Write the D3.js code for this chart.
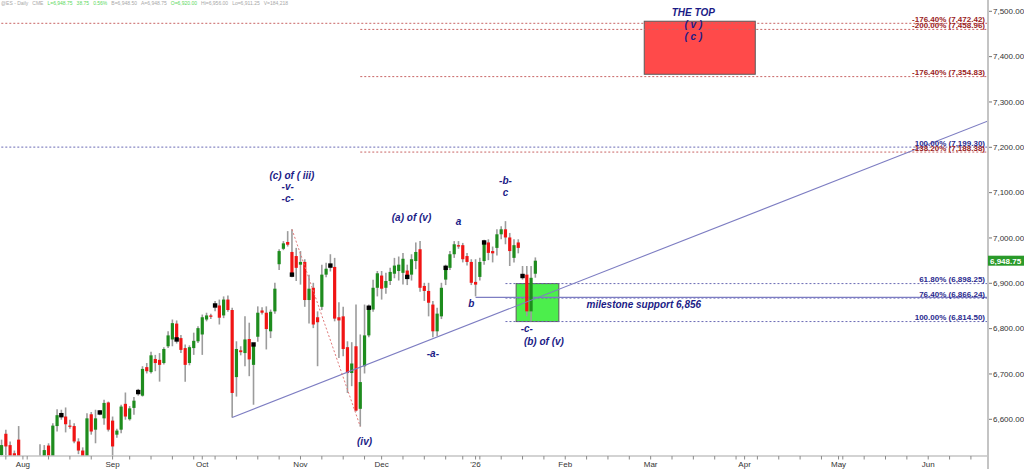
<!DOCTYPE html>
<html>
<head>
<meta charset="utf-8">
<script src="https://cdn.jsdelivr.net/npm/d3@7"></script>
<style>
body { margin: 0; background: #fff; overflow: hidden; }
svg { display: block; font-family: Arial, "Liberation Sans", sans-serif; }
</style>
</head>
<body>
<div id="chart"></div>
<script>
// time slots on the x axis (weekdays, past exchange holidays removed)
var firstSlot = "2025-07-24", lastSlot = "2026-06-19";
var holidays = ["2025-09-01", "2025-11-27", "2025-12-25", "2026-01-01"];

// daily bars, first one on Jul 25 2025
var firstBar = "2025-07-25";
var barOpen = [6520,6567,6542,6524,6554,6505,6460,6478,6465,6498,6510,6541,6515,6584,6607,6605,6585,6584,6550,6530,
  6516,6610,6576,6613,6601,6636,6596,6565,6576,6633,6599,6624,6658,6651,6714,6703,6732,6730,6723,6760,
  6775,6810,6778,6756,6723,6756,6771,6786,6819,6828,6850,6850,6828,6863,6840,6692,6751,6745,6776,6719,
  6781,6839,6834,6793,6837,6941,6975,6990,6968,6959,6940,6946,6862,6889,6824,6847,6918,6937,6935,6824,
  6826,6758,6701,6760,6622,6716,6784,6841,6889,6916,6889,6904,6920,6926,6922,6927,6918,6948,6974,6893,
  6882,6852,6793,6826,6907,6933,6963,6983,6983,6959,6946,6902,6913,6948,6989,6970,6977,7007,7018,7000,
  6955,6989,6916,6918,6837,6920];
var barHigh = [6554,6576,6550,6530,6584,6512,6485,6500,6510,6544,6542,6546,6590,6621,6620,6625,6598,6590,6557,6537,
  6612,6615,6620,6619,6642,6638,6605,6578,6631,6658,6628,6648,6666,6716,6723,6748,6741,6745,6758,6793,
  6819,6817,6785,6764,6762,6790,6804,6830,6834,6832,6860,6863,6870,6872,6845,6771,6760,6826,6812,6767,
  6848,6846,6848,6841,6900,6974,6992,7014,7018,6977,6970,6952,6918,6900,6837,6940,6944,6963,6955,6857,
  6847,6771,6769,6852,6786,6852,6852,6907,6926,6926,6922,6933,6955,6958,6966,6940,6963,6989,6992,6900,
  6900,6860,6845,6900,6940,6970,6992,6992,6988,6966,6952,6952,6955,6995,6996,6980,7018,7025,7036,7010,
  6996,6996,6937,6937,6937,6956];
var barLow = [6510,6515,6505,6505,6490,6440,6440,6450,6455,6490,6500,6505,6508,6572,6598,6570,6578,6546,6522,6505,
  6508,6565,6546,6608,6587,6572,6518,6558,6568,6598,6596,6609,6651,6649,6700,6700,6705,6682,6720,6756,
  6760,6766,6745,6682,6718,6741,6767,6741,6815,6820,6837,6808,6822,6836,6603,6649,6740,6716,6694,6631,
  6770,6830,6753,6778,6832,6928,6972,6980,6912,6904,6896,6847,6810,6800,6716,6840,6912,6925,6815,6734,
  6738,6657,6672,6616,6583,6700,6780,6836,6870,6863,6876,6895,6910,6905,6896,6895,6905,6930,6880,6860,
  6826,6780,6782,6820,6895,6928,6955,6975,6945,6938,6895,6870,6905,6940,6950,6945,6960,6996,6985,6937,
  6945,6965,6907,6826,6815,6911.25];
var barClose = [6542,6539,6515,6516,6505,6455,6475,6460,6500,6512,6531,6515,6585,6608,6608,6588,6583,6550,6530,6516,
  6601,6572,6601,6614,6635,6576,6539,6574,6627,6605,6623,6640,6659,6710,6705,6740,6723,6719,6754,6784,
  6811,6775,6752,6719,6758,6772,6800,6824,6828,6825,6850,6823,6863,6840,6657,6754,6747,6775,6731,6764,
  6834,6834,6798,6836,6887,6970,6987,6984,6918,6933,6946,6862,6887,6808,6813,6918,6931,6938,6821,6817,
  6754,6701,6722,6618,6681,6784,6845,6889,6921,6887,6904,6924,6938,6940,6953,6913,6952,6968,6889,6882,
  6856,6793,6832,6889,6933,6963,6985,6980,6952,6946,6900,6896,6946,6989,6966,6965,7007,7018,7000,6970,
  6983,6977,6915,6837,6911,6948.75];

// 9-bar count marker, counted from Aug 1
var markerStart = "2025-08-01", markerEvery = 9;

// price axis
var priceTicks = [6600, 6700, 6800, 6900, 7000, 7100, 7200, 7300, 7400, 7500];
var lastPrice = 6948.75;

// fibonacci levels
var fibPrice = [7472.42, 7458.96, 7354.83, 7199.30, 7188.38, 6898.25, 6866.24, 6814.50];
var fibLabel = ["-176.40% (7,472.42)", "-200.00% (7,458.96)", "-176.40% (7,354.83)", "100.00% (7,199.30)",
  "-138.20% (7,188.38)", "61.80% (6,898.25)", "76.40% (6,866.24)", "100.00% (6,814.50)"];
var fibFrom = ["2025-07-24", "2025-11-21", "2025-11-21", "2025-07-24", "2025-11-21", "2026-01-13", "2026-01-13", "2026-01-13"];
var fibKind = ["red", "red", "red", "blue", "red", "blue", "blue", "blue"];

// target zones
var zoneFrom = ["2026-02-27", "2026-01-16"];
var zoneTo = ["2026-04-06", "2026-01-30"];
var zoneTop = [7477, 6898.25];
var zoneBottom = [7360, 6814.50];
var zoneKind = ["red", "green"];

// trend line, wave (iii)-(iv) line, milestone support
var trendDates = ["2025-10-10", "2026-06-19"], trendPrices = [6603, 7257];
var waveDates = ["2025-10-30", "2025-11-21"], wavePrices = [7018, 6583];
var supportFrom = "2026-01-02", supportPrice = 6868;

// wave labels
var annoText = ["(c) of ( iii)", "-v-", "-c-", "(a) of (v)", "(iv)", "-a-", "a", "b", "-b-", "c", "-c-", "(b) of (v)", "THE TOP", "( v )", "( c )"];
var annoDate = ["2025-10-30", "2025-10-29", "2025-10-29", "2025-12-10", "2025-11-24", "2025-12-17", "2025-12-26", "2025-12-31",
  "2026-01-13", "2026-01-13", "2026-01-20", "2026-01-26", "2026-03-16", "2026-03-16", "2026-03-16"];
var annoPrice = [7136, 7112, 7085, 7043, 6551, 6743, 7036, 6854, 7126, 7100, 6800, 6771, 7496, 7470, 7443];
var supportText = "milestone support 6,856", supportTextDate = "2026-02-09", supportTextPrice = 6853;

// header line
var headParts = ["@ES - Daily", "CME", "L=6,948.75", "38.75", "0.56%", "B=6,948.50", "A=6,948.75", "O=6,920.00", "Hi=6,956.00", "Lo=6,911.25", "V=184,218"];
var headGreen = [false, false, true, true, true, false, false, true, false, false, false];

// ---- layout ----
var W = 1024, H = 469;
var plotRight = 988, plotBottom = 456;
var C = { up: "#1e8c1e", down: "#f01414", wick: "#9c9c9c", axis: "#c4c4c4", label: "#333",
  navy: "#1b1b86", fibRed: "#c86464", fibRedText: "#9a1c1c", fibBlue: "#6a6ab4", fibBlueText: "#2a2a8e",
  trend: "#7d7dc2" };

var fmt = d3.timeFormat("%Y-%m-%d"), parse = d3.timeParse("%Y-%m-%d");
var slots = d3.timeDay.range(parse(firstSlot), d3.timeDay.offset(parse(lastSlot), 1))
  .filter(function(d) { return d.getDay() > 0 && d.getDay() < 6 && holidays.indexOf(fmt(d)) < 0; });
var slotOf = {};
slots.forEach(function(d, i) { slotOf[fmt(d)] = i; });

var x = d3.scaleLinear().domain([0, slots.length - 1]).range([-2.7, plotRight]);
var y = d3.scaleLinear().domain([6600, 7500]).range([418.8, 10.8]);

var svg = d3.select("#chart").append("svg").attr("width", W).attr("height", H);
svg.append("defs").append("clipPath").attr("id", "plot")
  .append("rect").attr("x", 0).attr("y", 0).attr("width", plotRight).attr("height", plotBottom);
var plot = svg.append("g").attr("clip-path", "url(#plot)");

// zones
var zones = zoneFrom.map(function(d, i) {
  return { a: slotOf[d], b: slotOf[zoneTo[i]], top: zoneTop[i], bot: zoneBottom[i], kind: zoneKind[i] };
});
plot.selectAll("rect.zone").data(zones).enter().append("rect")
  .attr("class", "zone")
  .attr("x", function(d) { return x(d.a - 0.5); })
  .attr("width", function(d) { return x(d.b - 0.5) - x(d.a - 0.5); })
  .attr("y", function(d) { return y(d.top); })
  .attr("height", function(d) { return y(d.bot) - y(d.top); })
  .style("fill", function(d) { return d.kind == "red" ? "#ff4a4a" : "#4cee4c"; })
  .style("stroke", "#5a5a5a").style("stroke-width", 1);

// fib levels
var fibs = fibPrice.map(function(p, i) { return { p: p, label: fibLabel[i], from: slotOf[fibFrom[i]], kind: fibKind[i] }; });
plot.selectAll("line.fib").data(fibs).enter().append("line")
  .attr("class", "fib")
  .attr("x1", function(d) { return x(d.from); }).attr("x2", plotRight)
  .attr("y1", function(d) { return y(d.p); }).attr("y2", function(d) { return y(d.p); })
  .style("stroke", function(d) { return d.kind == "red" ? C.fibRed : C.fibBlue; })
  .style("stroke-width", 1).style("stroke-dasharray", "2,2");

// milestone support
plot.append("line")
  .attr("x1", x(slotOf[supportFrom])).attr("x2", plotRight)
  .attr("y1", y(supportPrice)).attr("y2", y(supportPrice))
  .style("stroke", C.trend).style("stroke-width", 1.3);

// candles
var bars = barOpen.map(function(o, i) {
  return { s: slotOf[firstBar] + i, o: o, h: barHigh[i], l: barLow[i], c: barClose[i] };
});
plot.selectAll("line.wick").data(bars).enter().append("line")
  .attr("class", "wick")
  .attr("x1", function(d) { return x(d.s); }).attr("x2", function(d) { return x(d.s); })
  .attr("y1", function(d) { return y(d.h); }).attr("y2", function(d) { return y(d.l); })
  .style("stroke", C.wick).style("stroke-width", 1.6);
plot.selectAll("rect.body").data(bars).enter().append("rect")
  .attr("class", "body")
  .attr("x", function(d) { return x(d.s) - 1.6; })
  .attr("width", 3.2)
  .attr("y", function(d) { return y(Math.max(d.o, d.c)); })
  .attr("height", function(d) { return Math.max(1.2, Math.abs(y(d.o) - y(d.c))); })
  .style("fill", function(d) { return d.c > d.o ? C.up : (d.c < d.o ? C.down : "#000"); });

// count markers
var m0 = slotOf[markerStart];
plot.selectAll("rect.mark").data(bars.filter(function(d) { return d.s >= m0 && (d.s - m0) % markerEvery == 0; }))
  .enter().append("rect")
  .attr("class", "mark")
  .attr("x", function(d) { return x(d.s) - 2.2; })
  .attr("y", function(d) { return y(d.c) - 2.2; })
  .attr("width", 4.4).attr("height", 4.4)
  .style("fill", "#000");

// trend line and wave line
plot.append("line")
  .attr("x1", x(slotOf[trendDates[0]])).attr("y1", y(trendPrices[0]))
  .attr("x2", x(slotOf[trendDates[1]])).attr("y2", y(trendPrices[1]))
  .style("stroke", C.trend).style("stroke-width", 1.1);
plot.append("line")
  .attr("x1", x(slotOf[waveDates[0]])).attr("y1", y(wavePrices[0]))
  .attr("x2", x(slotOf[waveDates[1]])).attr("y2", y(wavePrices[1]))
  .style("stroke", "#e07a7a").style("stroke-width", 1).style("stroke-dasharray", "2,2");

// fib labels
svg.selectAll("text.fib").data(fibs).enter().append("text")
  .attr("class", "fib")
  .attr("x", plotRight - 3).attr("y", function(d) { return y(d.p) - 1.5; })
  .attr("text-anchor", "end")
  .style("font-size", "8px").style("font-weight", "bold")
  .style("fill", function(d) { return d.kind == "red" ? C.fibRedText : C.fibBlueText; })
  .text(function(d) { return d.label; });

// wave labels
svg.selectAll("text.anno").data(annoText).enter().append("text")
  .attr("class", "anno")
  .attr("x", function(d, i) { return x(slotOf[annoDate[i]]); })
  .attr("y", function(d, i) { return y(annoPrice[i]); })
  .attr("dy", "0.35em").attr("text-anchor", "middle")
  .style("font-size", "10px").style("font-weight", "bold").style("font-style", "italic")
  .style("fill", C.navy)
  .text(function(d) { return d; });
svg.append("text")
  .attr("x", x(slotOf[supportTextDate])).attr("y", y(supportTextPrice)).attr("dy", "0.35em")
  .style("font-size", "10px").style("font-weight", "bold").style("font-style", "italic")
  .style("fill", C.navy).text(supportText);

// x axis
var monthTicks = slots.map(function(d, i) { return i; }).filter(function(i) {
  return i > 0 && slots[i].getMonth() != slots[i - 1].getMonth();
});
var weekTicks = slots.map(function(d, i) { return i; }).filter(function(i) {
  return i > 0 && slots[i].getDay() < slots[i - 1].getDay();
});
svg.append("line").attr("x1", 0).attr("x2", plotRight).attr("y1", plotBottom).attr("y2", plotBottom)
  .style("stroke", C.axis).style("stroke-width", 1.5);
svg.selectAll("line.wk").data(d3.union(weekTicks, monthTicks)).enter().append("line")
  .attr("class", "wk")
  .attr("x1", function(i) { return x(i); }).attr("x2", function(i) { return x(i); })
  .attr("y1", plotBottom).attr("y2", plotBottom + 3.5)
  .style("stroke", "#8a8a8a").style("stroke-width", 1);
svg.selectAll("text.month").data(monthTicks).enter().append("text")
  .attr("class", "month")
  .attr("x", function(i) { return x(i); }).attr("y", 467)
  .attr("text-anchor", "middle")
  .style("font-size", "8px").style("fill", C.label)
  .text(function(i) { return slots[i].getMonth() == 0 ? "'" + d3.timeFormat("%y")(slots[i]) : d3.timeFormat("%b")(slots[i]); });

// y axis
svg.append("line").attr("x1", plotRight).attr("x2", plotRight).attr("y1", 0).attr("y2", H)
  .style("stroke", C.axis).style("stroke-width", 2);
var yAxis = d3.axisRight(y).tickValues(priceTicks).tickSize(3).tickPadding(1).tickFormat(d3.format(",.2f"));
var gy = svg.append("g").attr("class", "y axis").attr("transform", "translate(" + (plotRight + 1) + ",0)").call(yAxis);
gy.select(".domain").remove();
gy.selectAll("line").style("stroke", "#777");
gy.selectAll("text").style("font-size", "8px").style("fill", C.label).style("font-family", "Arial, 'Liberation Sans', sans-serif");

// last price tag
svg.append("rect").attr("x", plotRight).attr("y", y(lastPrice) - 5).attr("width", 36).attr("height", 10)
  .style("fill", "#2a9a2a");
svg.append("text").attr("x", plotRight + 2).attr("y", y(lastPrice)).attr("dy", "0.35em")
  .style("font-size", "8px").style("font-weight", "bold").style("fill", "#fff")
  .text(d3.format(",.2f")(lastPrice));

// header
var head = svg.append("text").attr("x", 1).attr("y", 5).style("font-size", "5px").attr("xml:space", "preserve");
head.selectAll("tspan").data(headParts).enter().append("tspan")
  .attr("dx", function(d, i) { return i ? 4 : 0; })
  .style("fill", function(d, i) { return headGreen[i] ? "#5cd85c" : "#a8a8a8"; })
  .text(function(d) { return d; });
</script>
</body>
</html>
